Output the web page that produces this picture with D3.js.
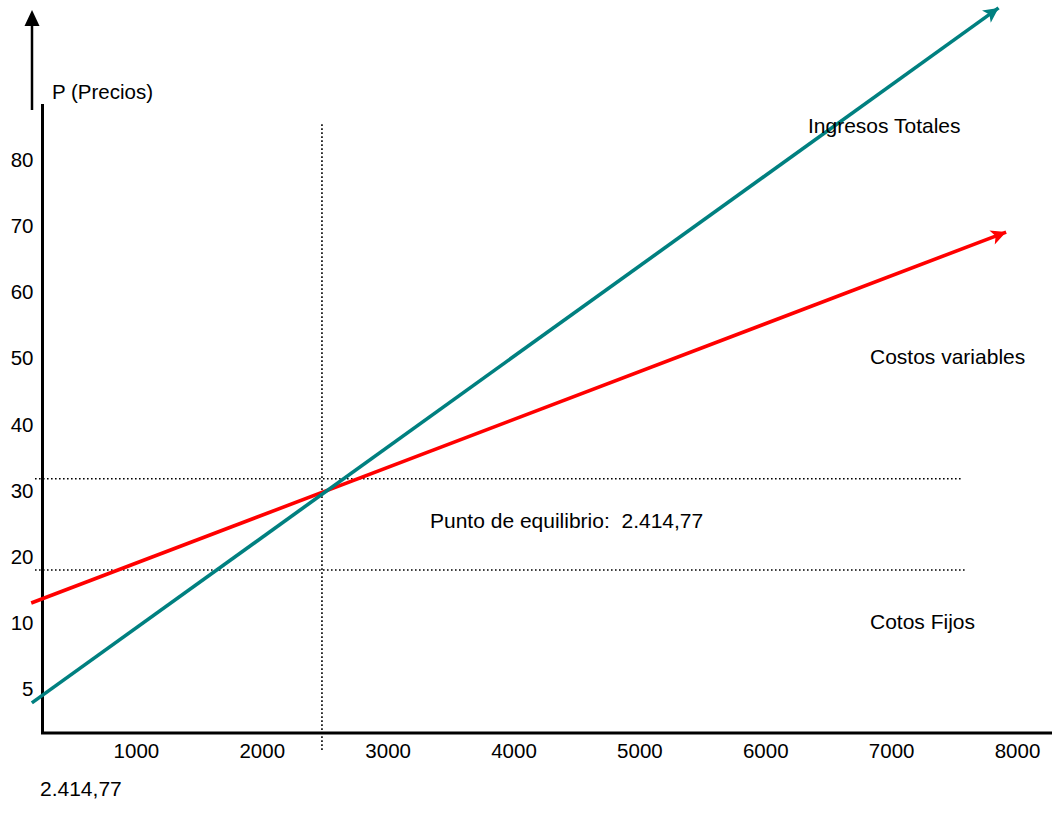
<!DOCTYPE html>
<html>
<head>
<meta charset="utf-8">
<script src="https://cdn.jsdelivr.net/npm/d3@7"></script>
<style>
  html, body { margin: 0; padding: 0; background: #fff; }
  svg { display: block; }
  text { font-family: "Liberation Sans", Arial, sans-serif; fill: #000; }
</style>
</head>
<body>
<svg id="chart" width="1052" height="831"></svg>
<script>
// Quantities on the horizontal axis
const xTicks = [1000, 2000, 3000, 4000, 5000, 6000, 7000, 8000];
// Price labels on the vertical axis (evenly spaced)
const yTickLabels = ["5", "10", "20", "30", "40", "50", "60", "70", "80"];

// Total revenue line (start, end) as [quantity, price]
const ingresosTotales = [[110, -2.1], [7790, 103]];
// Variable cost line (start, end)
const costosVariables = [[105, 13], [7850, 69.1]];

// Break-even quantity
const equilibrio = 2414.77;
// Horizontal reference levels and their extent
const nivelesRef = [
  { y: 31.8, x0: 135, x1: 7500 },
  { y: 18.0, x0: 135, x1: 7525 }
];
const verticalRange = [-9.5, 85.4];

const svg = d3.select("#chart");
const AXIS_FONT = 20.5;
const NOTE_FONT = 21;

const x = d3.scaleLinear().domain([0, 8000]).range([18, 1025]);
const y = d3.scaleLinear().domain([0, 80]).range([689, 160]);
const yLab = d3.scalePoint().domain(yTickLabels).range([689, 160]);

// Arrow markers
const defs = svg.append("defs");
function marker(id, color) {
  defs.append("marker")
    .attr("id", id)
    .attr("viewBox", "0 -5 10 10")
    .attr("refX", 10).attr("refY", 0)
    .attr("markerUnits", "userSpaceOnUse")
    .attr("markerWidth", 17).attr("markerHeight", 15)
    .attr("orient", "auto")
    .append("path")
    .attr("d", "M0,-5L10,0L0,5L2.5,0Z")
    .attr("fill", color);
}
marker("arr-teal", "#008080");
marker("arr-red", "#ff0000");

// Axes lines
svg.append("line")
  .attr("x1", 42.5).attr("x2", 42.5).attr("y1", 104).attr("y2", 734)
  .attr("stroke", "#000").attr("stroke-width", 3);
svg.append("line")
  .attr("x1", 41).attr("x2", 1052).attr("y1", 733).attr("y2", 733)
  .attr("stroke", "#000").attr("stroke-width", 3);

// Upward arrow for price axis
svg.append("line")
  .attr("x1", 32).attr("x2", 32).attr("y1", 110).attr("y2", 24)
  .attr("stroke", "#000").attr("stroke-width", 2.5);
svg.append("path")
  .attr("d", "M32,10L39.5,26L24.5,26Z")
  .attr("fill", "#000");

svg.append("text")
  .attr("x", 52).attr("y", 99)
  .attr("font-size", AXIS_FONT)
  .text("P (Precios)");

// Axis tick labels
const gx = svg.append("g")
  .attr("transform", "translate(0,733)")
  .call(d3.axisBottom(x).tickValues(xTicks).tickSize(0).tickFormat(d3.format("d")));
gx.select(".domain").remove();
gx.selectAll("text")
  .attr("font-size", AXIS_FONT)
  .attr("font-family", "Liberation Sans, Arial, sans-serif")
  .attr("dx", -8).attr("dy", "1.05em");

const gy = svg.append("g")
  .attr("transform", "translate(33.5,0)")
  .call(d3.axisLeft(yLab).tickSize(0).tickPadding(0));
gy.select(".domain").remove();
gy.selectAll("text")
  .attr("font-size", AXIS_FONT)
  .attr("font-family", "Liberation Sans, Arial, sans-serif");

// Dotted reference lines
svg.append("line")
  .attr("x1", x(equilibrio)).attr("x2", x(equilibrio))
  .attr("y1", y(verticalRange[1])).attr("y2", y(verticalRange[0]))
  .attr("stroke", "#000").attr("stroke-width", 1.6)
  .attr("stroke-dasharray", "1.6 2.4");
svg.selectAll(".ref")
  .data(nivelesRef)
  .enter().append("line")
  .attr("x1", d => x(d.x0)).attr("x2", d => x(d.x1))
  .attr("y1", d => y(d.y)).attr("y2", d => y(d.y))
  .attr("stroke", "#000").attr("stroke-width", 1.6)
  .attr("stroke-dasharray", "1.6 2.4");

// Cost and revenue lines
const line = d3.line().x(d => x(d[0])).y(d => y(d[1]));
svg.append("path")
  .attr("d", line(costosVariables))
  .attr("fill", "none").attr("stroke", "#ff0000").attr("stroke-width", 3.6)
  .attr("marker-end", "url(#arr-red)");
svg.append("path")
  .attr("d", line(ingresosTotales))
  .attr("fill", "none").attr("stroke", "#008080").attr("stroke-width", 3.6)
  .attr("marker-end", "url(#arr-teal)");

// Annotations
const notas = [
  { t: "Ingresos Totales", x: 808, y: 133 },
  { t: "Costos variables", x: 870, y: 364 },
  { t: "Punto de equilibrio:\u00a0\u00a02.414,77", x: 430, y: 528 },
  { t: "Cotos Fijos", x: 870, y: 629 },
  { t: "2.414,77", x: 40, y: 796 }
];
svg.selectAll(".nota")
  .data(notas)
  .enter().append("text")
  .attr("x", d => d.x).attr("y", d => d.y)
  .attr("font-size", NOTE_FONT)
  .text(d => d.t);
</script>
</body>
</html>
